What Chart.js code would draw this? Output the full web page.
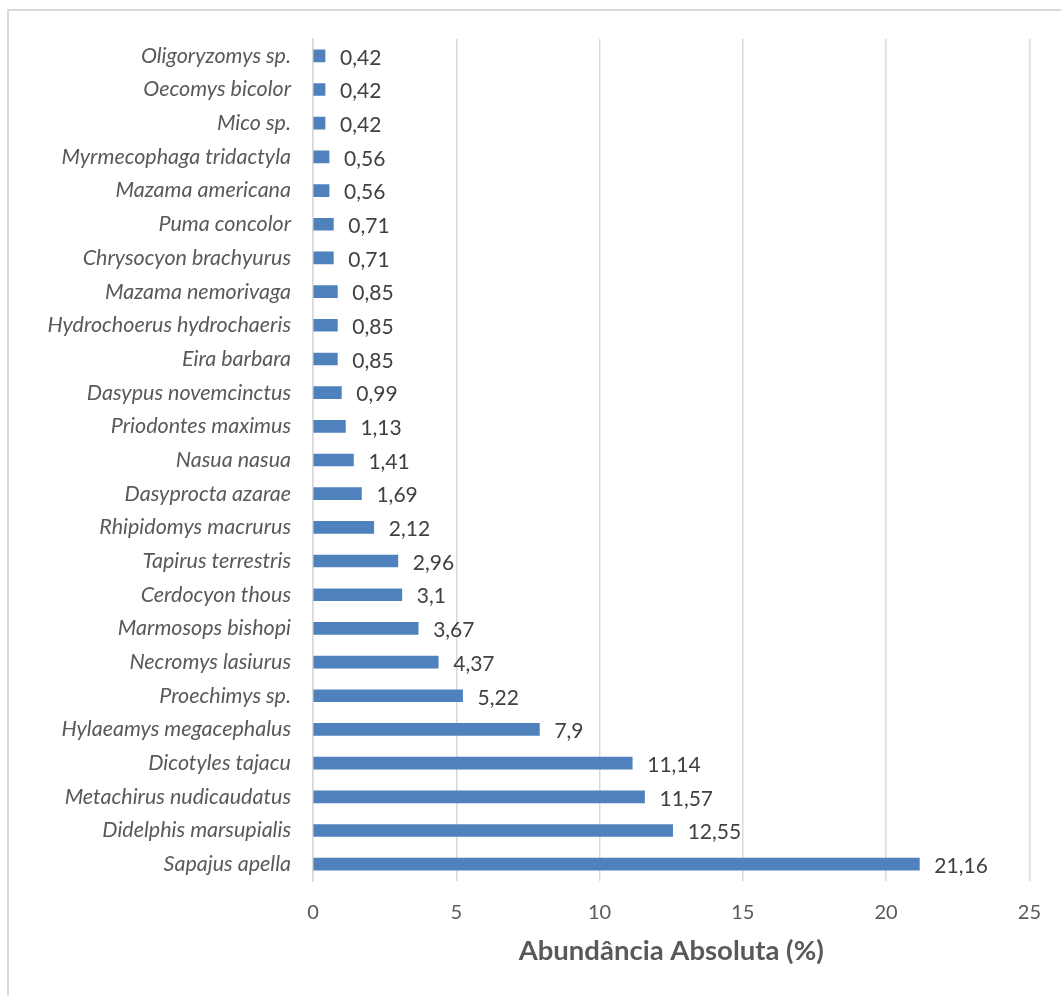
<!DOCTYPE html>
<html>
<head>
<meta charset="utf-8">
<script src="https://cdn.jsdelivr.net/npm/chart.js@4/dist/chart.umd.min.js"></script>
<style>
  html, body { margin: 0; padding: 0; background: #fff; overflow: hidden; }
  .marco {
    position: absolute; left: 7px; top: 9px; width: 1100px; height: 1100px;
    border: 2px solid #d9d9d9; box-sizing: border-box;
  }
  .caja { position: absolute; left: 0; top: 0; width: 1061px; height: 996px; }
</style>
</head>
<body>
<div class="marco"></div>
<div class="caja"><canvas id="chartAbundancia" width="1061" height="996"></canvas></div>
<script>
const especies = [
  "Oligoryzomys sp.", "Oecomys bicolor", "Mico sp.", "Myrmecophaga tridactyla",
  "Mazama americana", "Puma concolor", "Chrysocyon brachyurus", "Mazama nemorivaga",
  "Hydrochoerus hydrochaeris", "Eira barbara", "Dasypus novemcinctus", "Priodontes maximus",
  "Nasua nasua", "Dasyprocta azarae", "Rhipidomys macrurus", "Tapirus terrestris",
  "Cerdocyon thous", "Marmosops bishopi", "Necromys lasiurus", "Proechimys sp.",
  "Hylaeamys megacephalus", "Dicotyles tajacu", "Metachirus nudicaudatus",
  "Didelphis marsupialis", "Sapajus apella"
];
const abundancia = [
  0.42, 0.42, 0.42, 0.56, 0.56, 0.71, 0.71, 0.85, 0.85, 0.85, 0.99, 1.13, 1.41,
  1.69, 2.12, 2.96, 3.1, 3.67, 4.37, 5.22, 7.9, 11.14, 11.57, 12.55, 21.16
];
const ticksX = [0, 5, 10, 15, 20, 25];
const tituloX = "Abundância Absoluta (%)";

const fuente = "Lato, sans-serif";

// etiquetas de valor al final de cada barra
const etiquetasValor = {
  id: "etiquetasValor",
  afterDatasetsDraw(chart) {
    const ctx = chart.ctx;
    const meta = chart.getDatasetMeta(0);
    ctx.save();
    ctx.font = "21px " + fuente;
    ctx.fillStyle = "#404040";
    ctx.textAlign = "left";
    ctx.textBaseline = "middle";
    meta.data.forEach((bar, i) => {
      const txt = String(abundancia[i]).replace(".", ",");
      ctx.fillText(txt, bar.x + 15, bar.y + 2);
    });
    ctx.restore();
  }
};

const ctx = document.getElementById("chartAbundancia").getContext("2d");
new Chart(ctx, {
  type: "bar",
  data: {
    labels: especies,
    datasets: [{
      label: tituloX,
      data: abundancia,
      backgroundColor: "#4f81bd",
      borderWidth: 0,
      barThickness: 12
    }]
  },
  options: {
    indexAxis: "y",
    responsive: false,
    animation: false,
    layout: { padding: { top: 39, right: 31, bottom: 20, left: 20 } },
    scales: {
      x: {
        min: 0,
        max: 25,
        afterBuildTicks: s => { s.ticks = ticksX.map(v => ({ value: v })); },
        afterFit: s => { s.height = 95; },
        grid: { color: "#d9d9d9", lineWidth: 1.5, drawTicks: false },
        border: { display: false },
        ticks: { color: "#595959", font: { family: fuente, size: 20 }, padding: 20 },
        title: {
          display: true,
          text: tituloX,
          color: "#595959",
          font: { family: fuente, size: 27.5, weight: "bold" },
          padding: { top: 0, bottom: 8 }
        }
      },
      y: {
        afterFit: s => { s.width = 313 - 20; },
        grid: { display: false, drawTicks: false },
        border: { display: true, color: "#d9d9d9", width: 1.5 },
        ticks: {
          color: "#595959",
          font: { family: fuente, size: 21.5, style: "italic" },
          padding: 22,
          autoSkip: false
        }
      }
    },
    plugins: {
      legend: { display: false },
      tooltip: { enabled: false }
    }
  },
  plugins: [etiquetasValor]
});
</script>
</body>
</html>
